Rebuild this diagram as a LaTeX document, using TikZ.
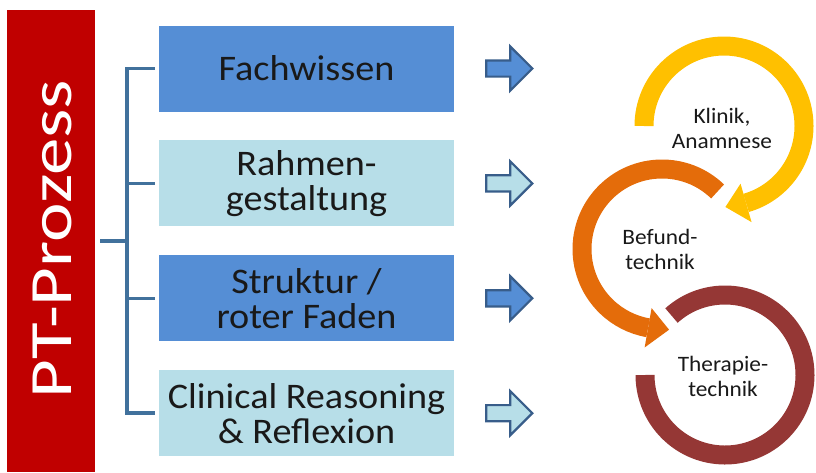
\documentclass[tikz,border=0pt]{standalone}
\usepackage{fontspec}
\setmainfont{Carlito}[FakeStretch=1.06]
\newfontfamily\barfont[FakeStretch=1.25]{Carlito}
\usetikzlibrary{positioning,calc,shapes.arrows}
\definecolor{BarRed}{HTML}{C00000}
\definecolor{BoxDark}{HTML}{558ED5}
\definecolor{BoxLight}{HTML}{B7DEE8}
\definecolor{Stem}{HTML}{41719C}
\definecolor{ArrowEdge}{HTML}{385D8A}
\definecolor{RingYellow}{HTML}{FFC000}
\definecolor{RingOrange}{HTML}{E46C0A}
\definecolor{RingMaroon}{HTML}{953735}
\tikzset{
  topicbox/.style={minimum width=295pt,minimum height=86pt,inner sep=0pt,align=center,font=\fontsize{36}{35}\selectfont,text=black!90},
  darkbox/.style={topicbox,fill=BoxDark},
  lightbox/.style={topicbox,fill=BoxLight},
  bracket/.style={draw=Stem,line width=3.5pt},
  blockarrow/.style={single arrow,draw=ArrowEdge,line width=2.2pt,inner sep=0pt,text height=14pt,text depth=0pt,minimum height=46pt,single arrow head extend=14pt},
  ring/.style={line width=19pt},
  ringlabel/.style={align=center,font=\fontsize{22}{25}\selectfont,text=black!90}
}

\begin{document}
\begin{tikzpicture}[x=1pt,y=-1pt,node distance=28.5pt]
  \useasboundingbox (0,0) rectangle (816,472);
  \node[fill=BarRed,minimum width=88pt,minimum height=462pt,inner sep=0pt] (bar) at (51,241) {};
  \node[rotate=90,text=white,inner sep=0pt,font=\barfont\fontsize{60}{60}\selectfont] (title) at (52,239) {PT-Prozess};
  % topic boxes
  \node[darkbox] (fach) at (306.5,68.5) {Fachwissen};
  \node[lightbox,below=of fach] (rahmen) {Rahmen-\\gestaltung};
  \node[darkbox,below=of rahmen] (struktur) {Struktur /\\roter Faden};
  \node[lightbox,below=of struktur] (reason) {Clinical Reasoning\\\& Reflexion};
  % bracket
  \coordinate (hub) at (127,240);
  \draw[bracket] ([xshift=5pt]bar.east) -- (bar.east -| hub);
  \draw[bracket] ([xshift=-4pt]fach.west) -| (hub) |- ([xshift=-4pt]reason.west);
  \foreach \b in {rahmen,struktur} \draw[bracket] ([xshift=-4pt]\b.west) -- (\b.west -| hub);
  % block arrows
  \foreach \b/\c in {fach/BoxDark,rahmen/BoxLight,struktur/BoxDark,reason/BoxLight}
    \node[blockarrow,fill=\c,right=31pt of \b] (arr\b) {};
  % rings
  \coordinate (klinik) at (724,126);
  \coordinate (befund) at (662,249);
  \coordinate (therapie) at (725,375);
  \draw[ring,draw=RingYellow] ($(klinik)+(-180:80)$) arc[start angle=-180,end angle=74,radius=80];
  \fill[RingYellow] ($(klinik)+(74:100)$) -- ($(klinik)+(89:81)$) -- ($(klinik)+(74:60)$) -- cycle;
  \draw[ring,draw=RingOrange] ($(befund)+(-46:80)$) arc[start angle=-46,end angle=-260,radius=80];
  \fill[RingOrange] ($(befund)+(-260:100)$) -- ($(befund)+(-275:81)$) -- ($(befund)+(-260:60)$) -- cycle;
  \draw[ring,draw=RingMaroon] ($(therapie)+(-132:80)$) arc[start angle=-132,end angle=180,radius=80];
  \node[ringlabel] (klinikT) at (722,128) {Klinik,\\Anamnese};
  \node[ringlabel] (befundT) at (660,249) {Befund-\\technik};
  \node[ringlabel] (therapieT) at (723,376) {Therapie-\\technik};
\end{tikzpicture}
\end{document}
